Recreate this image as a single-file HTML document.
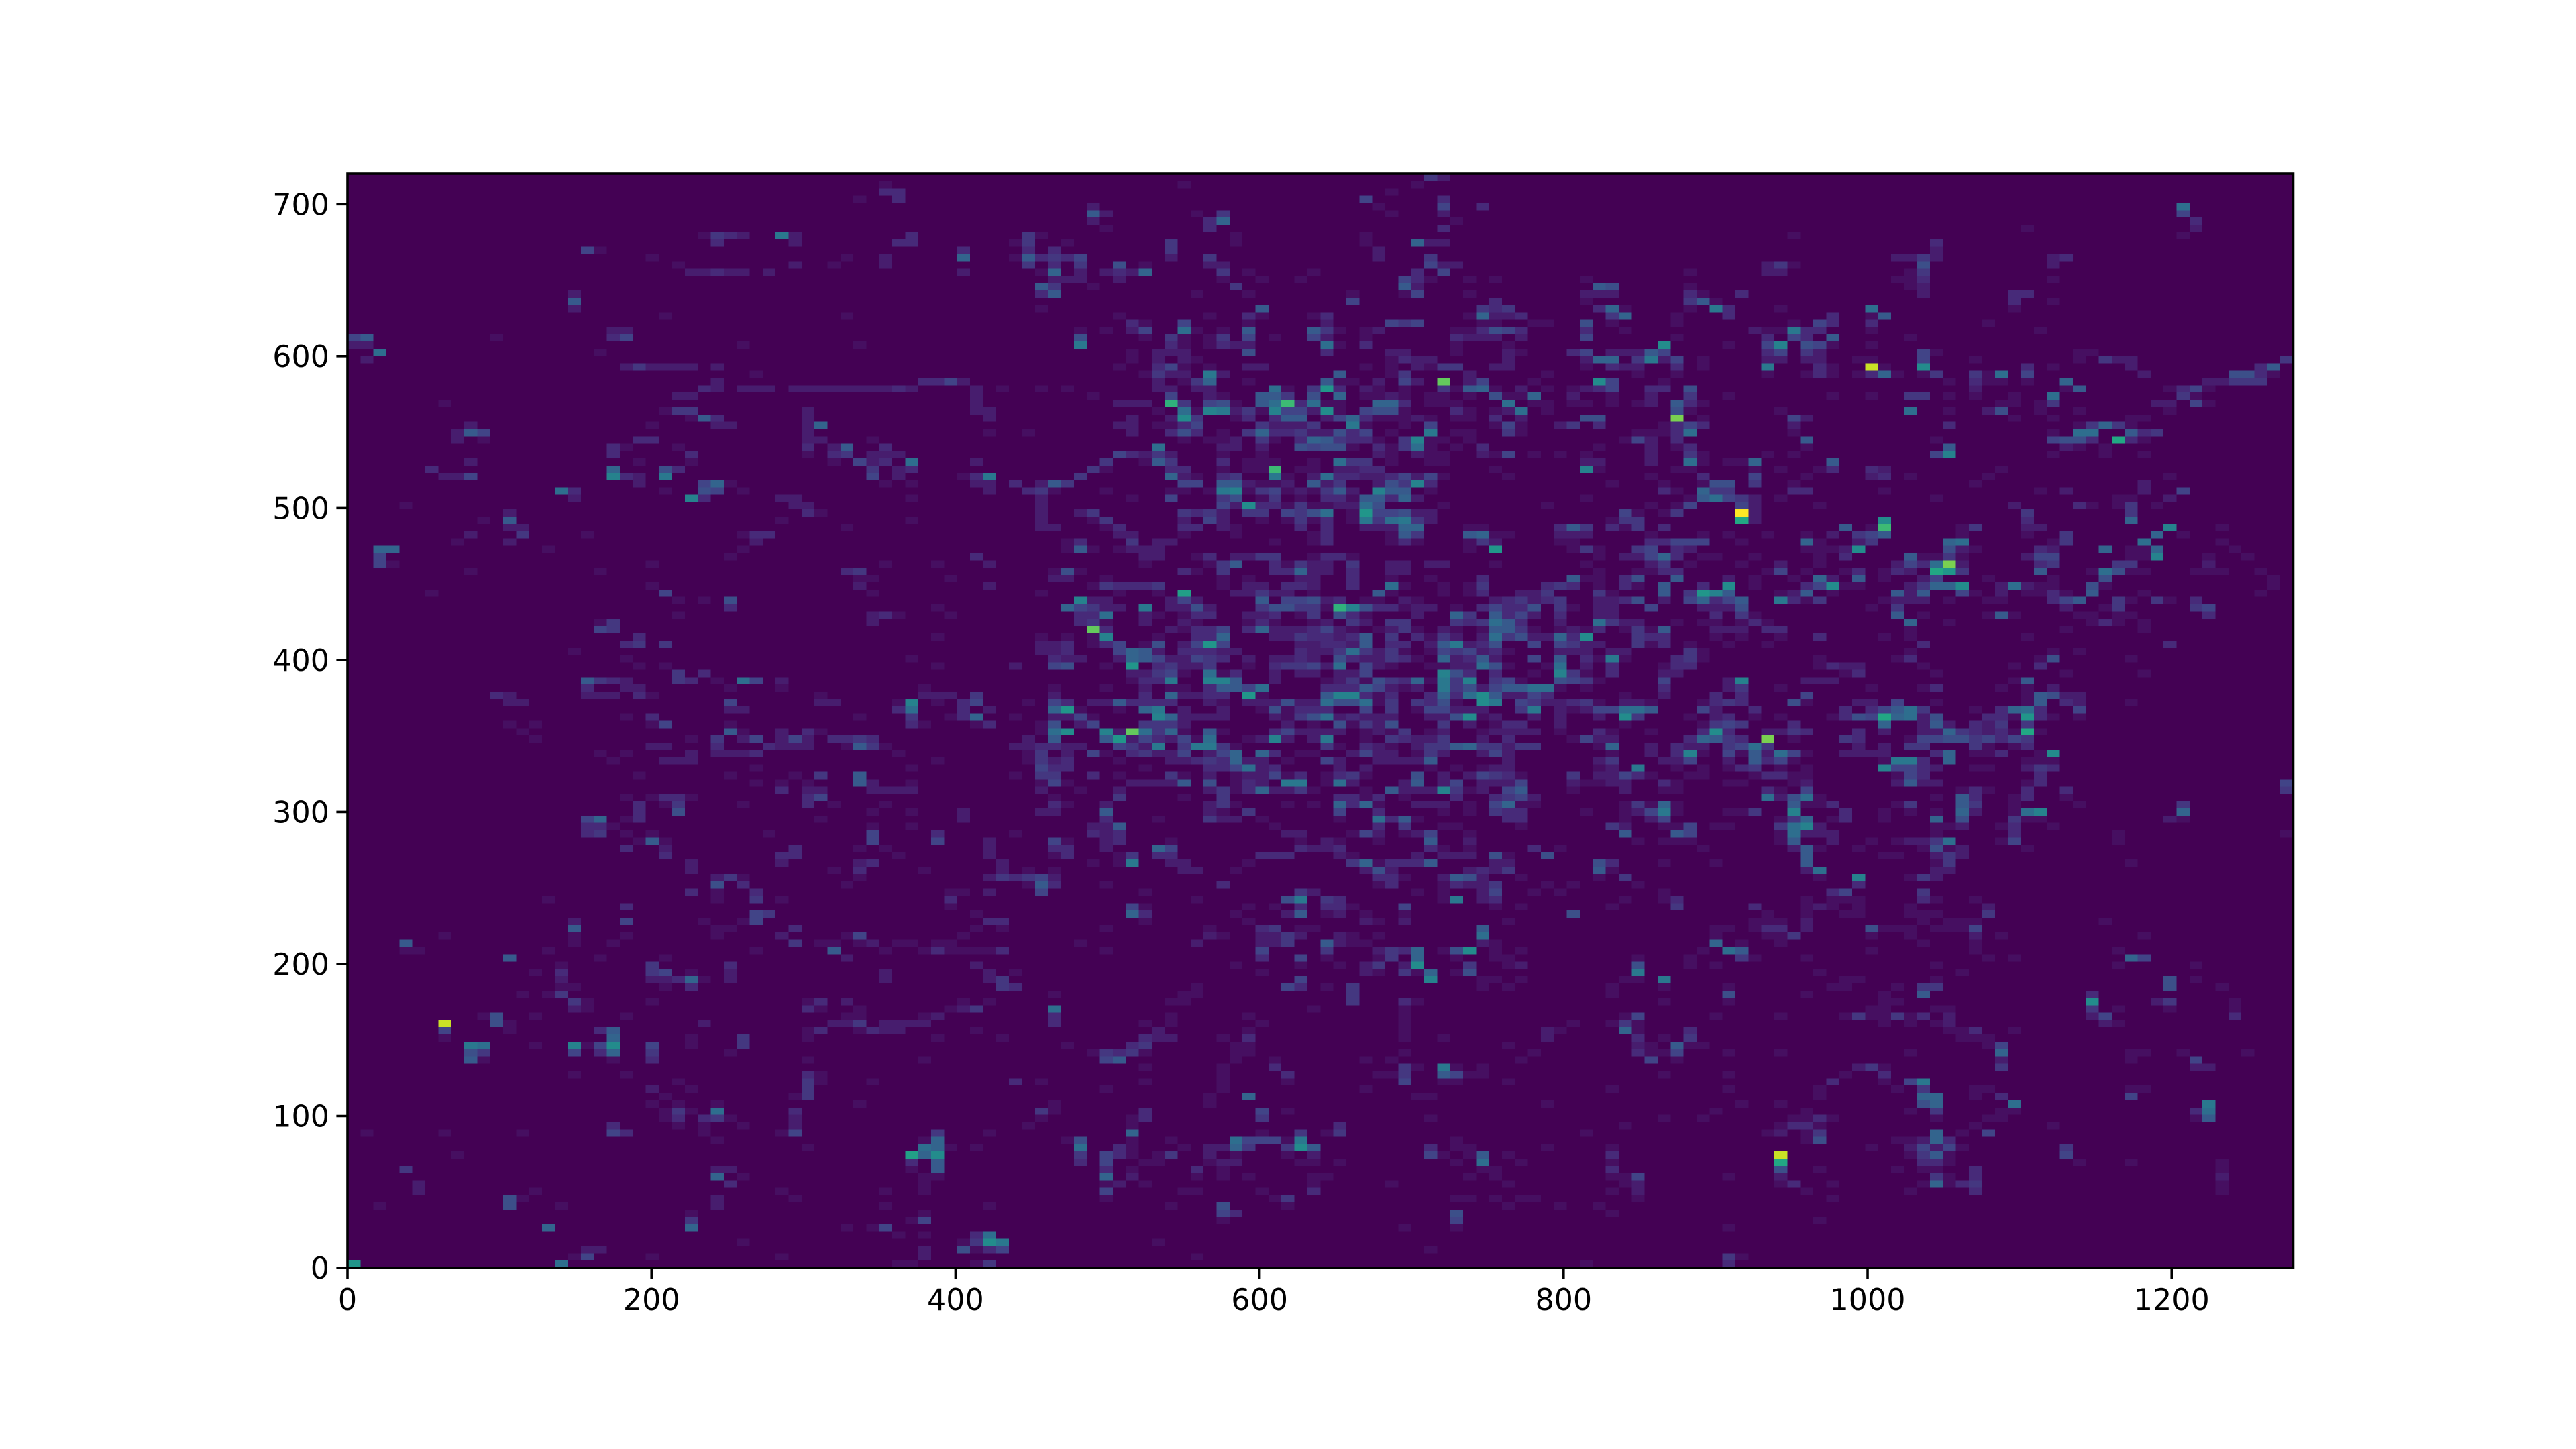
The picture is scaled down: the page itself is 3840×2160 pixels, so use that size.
<!DOCTYPE html>
<html lang="en">
<head>
<meta charset="utf-8">
<title>2D histogram heatmap</title>
<style>
html,body{margin:0;padding:0;background:#fff;width:3840px;height:2160px;overflow:hidden}
svg{display:block}
text{font-family:"DejaVu Sans","Liberation Sans",sans-serif;font-size:44.4px;fill:#000}
</style>
</head>
<body>
<svg id="chart" xmlns="http://www.w3.org/2000/svg" width="3840" height="2160" viewBox="0 0 3840 2160">
<rect x="0" y="0" width="3840" height="2160" fill="#ffffff"/>
<g id="plot"></g>
<g id="cells" shape-rendering="crispEdges"></g>
<g id="xaxis"></g>
<g id="yaxis"></g>
</svg>
<script>
const xTicks = [0,200,400,600,800,1000,1200];
const yTicks = [0,100,200,300,400,500,600,700];
const xBinCount = 150;
const yBinCount = 150;
const xMax = 1280;
const yMax = 720;
const countMax = 25;
// Each row: [row from top within block, col,count, col,count, ...]
const blockTopLeft = [
[1,41,1],[2,41,3,42,3],[3,39,1,42,3],
[8,27,1,28,4,29,3,30,2,33,10,34,2,43,3],[9,28,3,34,2,42,3,43,3],[10,18,5,19,1,47,3],[11,23,1,38,1,41,2,47,8],[12,25,1,34,2,37,1,41,2],[13,26,2,27,2,28,3,29,2,30,2,32,2,47,2],
[16,17,2],[17,17,7],[18,17,2],[19,24,1,38,1],[21,20,2,21,2],[22,0,5,1,7,11,1,20,3,21,5],[23,0,2,1,2,30,1,39,1],[24,2,9,19,1],[25,1,2],
[26,21,2,22,4,23,2,24,2,25,2,26,2,28,2],[27,31,1],[28,28,2,44,3,45,3,46,5,47,2],[29,27,3,28,2,30,2,31,2,32,2,34,2,35,2,36,2,37,2,38,2,39,2,40,2,41,2,42,3,43,2,48,2],[30,25,2,26,2,48,2],[31,7,1,48,2],
[32,24,1,25,4,26,4,35,2,48,2,49,2],[33,26,1,27,7,28,3,35,2,49,2],[34,9,2,23,1,28,2,29,2,35,2,36,8],[35,8,2,9,7,10,5,35,2,49,1],[36,8,2,10,1,22,3,23,3,35,2,36,2,40,1],
[37,20,3,21,1,25,1,35,3,37,2,38,7,41,3],[38,20,3,26,3,35,1,37,3,38,4,40,2,41,2,42,2],[39,9,2,22,1,26,1,37,1,39,5,40,2,41,3,43,9,48,2],[40,6,3,20,8,24,6,25,3,40,4,42,2,43,3],
[41,7,2,8,2,9,5,20,11,21,3,22,2,24,10,40,5,42,2,47,1,48,3,49,10],[42,22,2,27,5,28,8,29,1,41,1,43,1,48,2,49,2],[43,16,9,17,3,24,1,27,6,28,5,30,1,49,2],[44,17,2,26,11,27,3,33,2,34,2,43,1],
[45,4,1,34,2,35,2],[46,12,2,35,3,36,1],[47,10,1,12,7,33,1,43,1],[48,12,2,13,2,38,1],[49,9,2,13,4,18,1,30,1,31,3,32,3]
];
const blockTopCenter = [
[0,33,4,34,2],[1,14,1,32,1],[2,30,1],[3,28,5,34,3],[4,7,2,29,1,34,5,37,3],[5,7,7,8,2,15,1,17,4,30,1,34,2],[6,7,2,16,3,17,8,35,1],[7,8,1,16,3,34,3],
[8,2,4,3,1,18,1,28,1],[9,1,1,2,4,5,1,13,4,18,1,28,1,32,8,33,2,34,2],[10,2,3,4,3,13,4,29,2],[11,1,1,2,7,3,3,4,4,5,3,6,5,13,2,16,4,29,2,33,4],
[12,2,4,4,3,6,4,9,6,11,1,16,2,17,2,33,5,34,2,35,2],[13,3,1,4,8,6,2,8,2,9,3,10,2,11,8,17,4,19,1,24,1,32,3,34,5],
[14,4,2,5,2,6,2,9,2,17,1,20,1,23,1,31,5,32,3,33,1,36,1,38,1,45,1],[15,3,7,4,4,7,1,18,4,31,7,32,2,46,7,47,6],[16,3,3,4,7,15,1,19,1,27,1,31,1,32,5,36,1,45,2,46,2,47,2],[17,27,5,38,3,45,1],
[18,3,1,20,7,37,4,38,3,39,4,46,3,47,8,48,1],[19,9,1,16,1,19,3,20,1,24,1,25,3,36,1,37,8,38,2,39,2,40,3,47,4,48,8],
[20,10,3,11,1,14,5,19,1,25,2,30,5,31,4,32,5,37,1,38,1,41,1,42,1,45,6,47,1],
[21,6,1,8,1,10,2,11,5,14,9,15,1,17,1,19,7,24,7,25,4,26,1,28,1,29,2,35,1,36,1,37,3,38,6,39,5,40,3,45,3,48,1],
[22,6,6,11,1,13,4,14,1,16,1,17,4,19,5,21,1,24,5,25,2,28,1,35,3,36,2,37,2,38,2,40,2,45,5],
[23,6,10,13,3,14,1,16,1,17,3,18,2,19,2,25,9,26,1,28,3,35,1,39,1],
[24,10,1,12,2,13,2,14,2,19,6,25,3,30,2,31,2,35,1,39,2,40,1,44,3,45,5,47,2,48,2,49,2],
[25,10,1,12,2,14,2,15,1,30,1,31,3,32,2,33,2,39,2,45,2,46,8,47,8,49,4],
[26,9,1,12,3,13,5,14,1,16,1,19,2,20,2,28,1,30,1,32,2,33,1,34,4,35,4,38,2,39,2,45,1,47,3,48,2,49,2],
[27,11,1,12,4,13,2,14,2,16,10,17,2,26,7,30,1,31,4,36,2,42,1,49,1],
[28,12,2,14,1,15,4,16,8,19,1,25,7,26,1,27,1,29,2,31,5,32,2,34,19,36,2,37,5,41,1,46,12,47,5],
[29,0,1,3,1,5,1,12,2,13,2,15,2,16,2,21,9,22,1,24,4,25,13,26,3,28,2,29,1,31,1,34,4,35,1,36,7,37,8,38,1,40,2,42,1,44,1,45,2,46,3,47,5],
[30,7,1,13,5,16,2,17,1,20,7,21,7,22,4,24,6,26,8,28,1,29,1,30,2,31,1,33,1,34,1,36,1,38,6,39,1,40,1,41,8,44,2,47,1],
[31,9,2,10,2,11,2,13,16,14,4,16,5,17,6,18,1,20,7,21,9,22,17,23,3,24,9,25,1,26,1,29,8,30,8,31,3,33,1,34,1,35,1,39,9,41,1,42,1,44,1,45,1,47,1,49,1],
[32,12,1,14,9,15,1,16,11,17,10,18,2,19,4,20,1,21,11,22,5,23,5,24,2,25,12,26,1,28,5,29,6,30,6,31,1,35,3,36,1,38,1,39,2,40,9,42,1],
[33,10,2,13,2,14,12,15,4,18,1,19,3,21,3,22,7,23,7,25,2,26,5,27,8,28,3,29,1,30,1,31,1,32,2,33,1,35,1,36,1,38,3,40,2,45,6,46,6],
[34,9,2,10,2,12,1,13,1,14,3,15,5,20,4,21,2,22,2,23,2,24,4,27,10,28,1,31,1,33,5,38,1,39,5,40,1,43,2,44,4,46,3],
[35,2,1,10,2,13,3,14,6,15,3,17,1,19,4,20,8,21,3,22,3,23,4,24,2,25,2,26,6,27,3,28,5,30,1,33,10,35,1,36,1,39,4,40,1,49,1],
[36,14,1,16,1,17,1,18,2,20,4,21,1,23,3,24,8,25,7,26,4,27,3,28,3,29,1,31,4,32,11,33,1,34,1,36,1,48,1,49,5],
[37,12,9,17,2,18,2,20,2,23,6,24,5,25,6,26,6,27,1,29,3,30,1,31,4,32,9,33,1,35,1,37,3,46,1],
[38,9,5,10,3,11,2,12,4,13,2,17,1,20,1,29,2,30,1,32,2,33,1,34,1,37,2,38,1,39,5,41,1,43,1,45,1],
[39,8,4,11,1,12,7,13,4,17,3,19,1,20,1,21,1,24,1,26,9,27,4,28,4,30,1,33,1,34,1,45,2,46,2],
[40,7,4,8,1,13,3,14,3,17,1,19,1,20,1,21,17,23,1,24,1,26,2,27,2,28,3,29,3,38,1,45,11,46,1],
[41,6,4,13,8,14,2,15,1,17,3,18,4,21,10,22,1,24,2,25,9,26,3,27,3,28,2,29,2,30,3,31,5,32,2,33,5,34,1,39,1],
[42,1,3,3,2,4,7,5,4,14,5,15,5,17,7,18,7,19,2,20,1,21,1,22,2,24,7,25,2,26,4,29,2,30,6,31,4,32,11,33,3,47,1],
[43,2,3,3,4,4,1,8,1,13,1,14,1,16,1,17,10,18,11,19,1,20,4,21,5,22,1,23,2,24,1,25,4,26,7,27,2,29,11,30,7,31,7,33,1],
[44,3,2,10,1,13,5,17,4,18,6,20,1,21,4,23,1,25,3,26,3,27,1,28,7,29,7,30,3,31,8,32,2,45,1],
[45,3,2,17,5,18,2,19,12,20,3,21,3,22,1,23,4,24,1,25,1,26,2,27,2,28,9,29,6,34,1,42,1],
[46,3,2,6,2,7,4,14,4,15,3,16,4,17,2,19,4,20,4,22,5,23,4,24,6,25,9,27,1,28,13,29,5,30,5,31,6,32,2,33,2,48,5,49,1],
[47,3,2,7,1,8,4,14,2,16,5,17,2,20,1,22,1,23,4,24,1,25,3,27,1,28,10,29,4,30,9,31,10,32,4,33,2,47,1,48,4,49,4],
[48,3,2,4,2,8,1,9,3,14,3,15,3,17,2,18,1,23,3,25,3,28,2,29,2,30,2,31,8,32,8,36,1,37,1,43,3,44,7,45,4,47,3,48,1,49,4],
[49,9,2,10,2,14,1,18,1,24,1,25,3,30,1,31,7,32,4,36,7,37,8,38,1,39,1,43,2,44,2,45,2]
];
const blockTopRight = [
[4,41,9],[5,41,5],[6,42,3],[7,29,1,42,2],[8,11,1,41,1],[9,22,3],[10,22,2],[11,19,2,20,2,21,4,22,2,31,2,32,3],[12,9,2,10,4,11,1,21,6,31,2],[13,3,1,9,2,10,2,20,1,21,4],[14,19,1,20,1,21,3,31,1],[15,3,1,20,1,21,2],
[16,3,3,4,1,7,3,21,2,28,3,29,3],[17,3,4,4,7,5,1,28,3,31,1],[18,3,1,5,10,6,3,10,1,17,9,28,1],[19,2,1,6,3,14,3,17,1,18,7],[20,2,1,11,1,13,5,14,3,17,3,26,1],[21,8,2,9,1,10,1,11,10,12,3,13,3,17,1,30,1],
[22,2,1,9,3,11,5,12,3,14,7,20,1],[23,1,12,6,1,9,5,10,11,12,6,13,5,14,1,17,1],[24,0,7,1,5,9,3,10,5,12,4,13,2,21,5,22,1,33,1,34,1],
[25,0,10,1,2,2,5,4,1,9,2,10,2,12,2,13,2,16,1,17,1,21,5,25,1,33,1,35,4,36,2,37,2,49,4],[26,2,3,4,1,9,10,13,3,14,1,17,23,18,1,21,12,29,3,31,1,37,2,47,3,48,7],
[27,2,1,9,1,12,1,13,3,14,1,16,1,17,3,18,8,19,1,21,1,22,4,25,4,26,1,27,9,29,5,38,2,45,6,46,6,47,3,48,1],[28,1,1,23,1,25,3,26,1,27,1,29,1,32,8,43,2,44,2,45,4,46,4,47,4],
[29,0,3,1,3,3,6,25,2,32,1,33,7,40,1,41,3,42,5,43,1],[30,0,2,3,4,6,1,14,1,17,1,20,4,21,4,23,1,25,1,28,1,31,9,41,4,42,1],[31,0,2,2,7,3,3,4,1,27,1,28,1,30,1,31,4,39,2,40,2,42,5,43,1],
[32,2,6,3,1,10,1,20,9,23,1,26,2,27,6,30,1,33,1,40,1],[33,2,20,4,1,11,5,12,2,28,1,31,1,37,1,38,1],[34,1,1,2,3,3,5,4,3,11,2,23,3,33,1,34,4,35,8,36,4,37,1],
[35,0,1,1,1,2,3,3,9,11,1,31,1,33,9,34,9,37,7,38,3,39,4],[36,0,2,2,3,12,7,22,1,31,5,32,6,33,6,34,3,36,15,37,3,38,1],[37,0,2,2,1,3,3,12,1,23,7,32,2,33,1,35,1],
[38,0,2,3,4,4,1,9,1,11,1,22,5,23,11,31,1,35,1,38,1],[39,0,2,3,9,4,1,6,1,7,1,8,8,14,7],[40,2,1,3,1,8,1,10,1,13,1,14,3,17,3,18,2,27,1],[41,0,1,4,3,8,5,12,1,17,2,18,3,20,1,26,1,40,1],
[42,1,1,4,1,5,6,6,6,8,4,11,1,25,1,38,2],[43,1,3,2,1,4,8,5,4,6,4,11,3,12,3,18,1,30,1,32,2,38,2,41,5],[44,3,1,4,7,5,9,6,5,7,4,8,2,10,1,22,1,36,1,37,1,40,2],
[45,0,1,2,1,3,5,7,5,8,2,13,1,28,2,33,3,34,1,36,1,37,4,39,1],[46,1,1,2,4,7,25,8,2,29,4,37,4],[47,7,15,8,2,18,12,29,3,37,8],[48,1,3,15,7,17,1,18,17,24,1,25,4,29,2,30,2,40,11,44,1],
[49,0,1,4,1,6,1,9,1,12,1,14,2,16,4,17,5,18,7,24,1,29,1,32,4,39,8,41,1]
];
const blockMiddleLeft = [
[0,8,1,12,2,31,2],[1,2,8,3,8,15,1,30,1],[2,2,5,29,1,48,3],[3,2,5,3,1,23,1,41,1,45,1,49,2],[4,9,1,19,1,38,3,39,4],[5,39,1,40,1,46,1],[6,23,1,39,2,49,2],[7,6,1,24,5,40,1],[8,25,1,27,1,29,6],[9,29,3,45,1],
[10,25,1,40,2,41,3,42,1,46,1],[11,19,1,20,4,40,2],[12,19,5,20,4],[13,22,3,45,1],[14,21,3,22,4,24,4],[15,17,1],[16,21,1,43,1],[17,22,1,24,1,45,1],[18,25,4,27,3],
[19,18,7,19,4,20,3,21,2,25,4,26,3,28,1,30,9,31,5,33,2],[20,18,3,21,2,22,2,29,1,33,1,44,1],[21,11,3,12,2,18,2,19,2,20,2,22,3,23,1,36,1,44,2,45,2,46,2,48,4],[22,12,2,13,2,29,5,36,2,37,2,42,1,43,11,45,1,47,3,48,5],
[23,29,2,30,2,42,3,43,9,47,3,49,2],[24,21,1,23,3,39,1,43,4,46,1,47,3,48,8],[25,12,1,14,1,23,1,24,5,29,1,43,3,44,1,48,1,49,3],[26,13,1,29,7,30,1,33,2,35,3,36,1],
[27,14,1,26,1,28,4,30,2,31,5,33,2,34,5,35,2,37,3,38,3,39,4,40,3],[28,23,2,24,2,28,3,32,3,33,2,34,2,35,2,38,1,39,7,40,4,41,1],[29,19,1,21,1,26,2,28,2,29,2,30,2,31,3,42,1],[30,20,1,24,2,25,2,26,2,45,1],[31,31,1,43,1],
[32,22,1,29,1,34,1,36,4,39,7],[33,31,1,33,1,35,1,39,7,40,2,43,1],[34,33,3,35,2,36,2,40,2,41,2,42,2,43,2],[35,21,1,23,1,24,3,25,3,26,1,35,3,36,5],[36,22,3,24,1,25,4,30,1,35,3,37,1,41,1],[37,22,3,25,6,40,1,43,1,47,2],
[38,18,5,19,8,21,1,22,3,36,1,47,2],[39,18,3,19,3,20,1,40,1,43,1],[40,18,3,19,4,21,1,23,1,32,1,40,5,45,3],[41,22,1,23,7,24,1,40,5,45,5,49,2],[42,21,3,24,2,34,3,39,1,41,1,49,2],[43,24,3,33,3,34,3,42,1,49,2],
[44,26,2,33,2,39,2,40,3],[45,26,2,37,1,39,3,44,1],[46,28,2,29,4,30,1,39,1,49,2],[47,28,6,30,3,38,1],[48,26,3,28,1,31,3,46,1,47,1,49,2],[49,15,1,28,1,31,4,33,1,46,3]
];
const blockCenter = [
[0,5,1,6,3,10,4,12,2,13,2,21,1,24,1,25,3,30,1,31,3,32,1,36,1,37,4,38,2,43,1,44,1],
[1,5,1,6,7,7,1,9,1,10,2,11,2,12,2,36,1,38,13,44,1,45,4,46,1,49,4],
[2,11,2,12,2,15,1,16,3,18,2,19,2,20,4,21,4,24,1,25,3,26,3,27,1,46,1,48,2,49,2],
[3,11,1,16,1,17,4,18,7,21,3,22,1,23,4,24,2,25,2,27,4,30,2,31,2,33,2,34,2,38,1,45,1],
[4,4,1,5,6,6,1,14,3,15,1,17,4,21,3,22,3,23,8,24,2,25,2,27,3,30,2,31,2,46,1,49,1],
[5,4,2,5,2,8,1,17,1,19,1,23,2,24,2,27,3,30,1,33,1,37,3,44,7,45,1,46,1,48,3,49,6],
[6,7,1,8,4,9,3,10,3,11,3,12,4,17,1,19,2,20,2,22,3,23,3,24,2,27,3,30,9,31,1,34,1,36,1,37,4,42,3,43,4,44,3,46,1,48,3,49,1],
[7,3,1,9,1,12,1,14,14,18,2,19,2,20,4,21,2,22,2,24,1,29,7,30,1,34,1,36,1,37,3,40,2,41,2,42,4,46,4,47,1],
[8,6,11,7,2,8,2,13,2,14,5,15,2,20,7,22,5,23,5,24,6,25,2,26,3,28,1,29,1,31,2,32,1,38,2,39,3,40,4,41,2,42,3,43,4,46,2,47,2,48,3,49,6],
[9,5,8,6,5,7,4,8,2,9,2,11,10,13,2,14,2,15,6,16,2,20,4,21,6,22,6,23,4,24,4,25,1,26,16,27,11,28,6,29,3,30,3,31,1,32,2,33,2,35,1,37,3,38,5,39,3,40,3,41,6,43,4,44,1,46,2,47,2],
[10,6,3,7,3,8,9,11,2,12,1,14,1,15,3,16,3,19,2,20,2,21,3,23,1,24,4,26,6,27,3,28,1,32,2,35,8,36,4,38,7,39,3,40,5,41,2,43,3,46,2,47,2],
[11,6,3,7,4,8,1,11,2,14,2,15,1,19,1,20,3,21,1,24,1,25,2,27,4,28,2,30,4,31,4,35,4,36,3,37,4,38,9,39,7,40,3,43,2,46,9,47,4,48,2,49,2],
[12,7,19,8,3,13,2,14,1,15,3,16,3,17,5,19,3,20,8,21,2,22,2,23,2,24,3,25,5,26,2,27,1,29,1,30,2,31,4,32,1,34,2,35,1,37,1,38,7,39,7,40,4,41,1,43,1,44,2,45,1,46,3,48,1,49,4],
[13,3,1,5,1,7,1,8,11,12,1,15,3,16,3,17,8,21,2,22,2,23,4,24,3,25,3,26,2,27,3,28,7,30,4,32,3,33,1,34,4,35,2,37,2,38,9,39,4,40,6,41,2,42,2,43,8,44,3,45,12,49,4],
[14,3,2,4,2,5,3,7,1,8,3,9,5,11,1,12,6,14,2,15,5,16,13,17,5,23,2,24,2,25,3,26,3,27,2,28,7,30,3,31,3,33,2,34,7,35,10,36,2,37,3,38,6,41,5,43,5,44,4,45,2,46,2,49,4],
[15,3,2,4,2,5,3,9,5,10,8,11,7,12,2,14,3,15,3,16,3,17,2,18,2,23,3,24,2,25,2,26,4,27,9,28,4,29,2,30,4,31,1,33,1,34,5,35,4,36,5,37,2,38,3,39,1,43,2,44,2,45,2,47,2,48,2],
[16,4,3,5,2,6,2,9,2,10,8,11,7,12,5,13,2,14,2,15,5,16,4,17,3,19,2,21,2,22,2,23,3,24,2,26,6,27,3,28,2,29,2,30,4,31,3,32,1,34,8,35,2,36,3,37,7,38,2,41,5,43,7,45,3,46,1,47,10,48,1],
[17,1,2,4,5,5,6,8,1,10,13,12,3,13,4,14,2,15,2,16,4,19,1,21,3,22,4,23,4,24,5,25,2,26,9,28,5,29,2,30,1,33,1,34,1,35,2,36,2,37,9,38,6,39,1,42,1,43,9,45,2,47,3],
[18,10,2,11,2,12,4,13,5,14,1,16,9,17,1,18,3,21,2,23,2,24,2,26,2,27,2,28,5,34,11,35,6,36,3,38,3,41,1,43,11,44,4,45,1,47,3],
[19,10,1,11,3,12,3,13,10,16,11,17,11,18,7,21,2,25,1,26,2,27,4,28,1,29,6,30,4,31,3,32,8,33,1,34,10,35,4,36,11,38,4,39,5,40,1,43,6,44,5,45,4,46,1],
[20,4,1,8,1,11,2,13,1,14,1,16,3,17,7,18,7,19,5,20,9,25,3,26,3,27,3,28,7,29,5,30,2,31,1,32,2,34,10,35,4,36,6,37,2,38,5,39,7,40,7,41,9,42,9,43,1,45,1],
[21,4,2,11,3,13,8,14,2,15,2,16,3,17,3,19,13,20,1,25,7,26,11,27,11,28,3,29,1,30,3,33,3,34,8,35,3,36,9,37,12,38,7,39,2,40,2,41,5,42,3,48,1],
[22,2,1,4,5,5,3,7,2,8,2,9,7,10,3,11,3,12,3,13,3,16,2,17,1,19,2,20,2,21,2,22,6,23,2,24,2,25,9,26,6,27,6,28,9,29,1,30,4,32,4,33,3,34,6,35,1,37,12,38,10,40,5,41,4,42,2,43,2,44,3,45,4,46,1,48,2,49,2],
[23,4,8,5,13,6,1,9,1,11,8,12,10,14,2,17,2,20,1,21,6,22,1,23,3,24,3,25,3,28,5,30,4,32,1,33,5,34,5,35,2,36,2,37,2,40,4,41,10,43,2,44,1,45,2,46,5,47,5,48,9,49,9],
[24,1,1,4,2,5,2,6,5,7,1,12,11,13,8,14,2,15,2,16,2,17,2,21,2,22,1,23,4,24,6,25,9,26,2,27,3,28,2,29,2,30,2,33,2,34,2,35,6,36,12,37,1,38,2,41,2,43,2,46,2,48,12,49,4],
[25,3,1,4,6,6,2,7,5,11,4,12,4,13,4,14,2,22,2,24,1,26,6,27,1,28,4,29,2,30,6,34,4,36,2,38,1,39,3,40,3,43,2,48,1],
[26,3,1,4,9,5,12,8,11,9,2,10,19,11,9,12,4,13,8,14,1,16,7,17,1,21,3,22,5,23,2,24,2,25,2,26,2,28,1,29,2,30,1,31,4,33,1,34,2,37,1,38,2,39,2,40,2,41,2,43,1,46,3,47,1],
[27,2,2,4,7,8,7,9,13,10,2,11,5,12,3,13,2,14,5,15,1,16,9,19,1,20,2,21,11,22,2,24,2,25,10,28,1,30,4,31,3,32,2,33,2,34,4,37,2,39,3,44,1,45,5,46,2,47,2],
[28,1,2,2,2,3,3,4,3,5,2,6,2,9,5,10,4,11,2,12,10,14,4,15,10,16,10,17,4,18,1,25,4,26,1,28,3,29,2,30,1,32,2,33,4,34,4,35,7,36,8,37,4,38,4,39,2,40,4,41,4,46,1,47,8],
[29,2,1,3,4,5,2,7,5,8,1,10,3,11,4,12,2,13,2,14,5,16,2,17,5,18,8,20,8,21,3,23,1,24,1,27,2,28,5,29,2,30,2,32,1,33,4,34,2,37,2,38,5,39,2,47,1],
[30,2,1,3,4,4,2,5,3,9,1,13,2,14,2,15,3,16,4,17,3,18,8,19,2,20,2,22,1,25,5,26,2,29,2,30,2,31,2,32,2,33,7,39,2,46,2,47,4],
[31,3,5,4,3,5,3,11,1,16,3,17,3,18,5,19,9,20,2,21,3,26,2,28,2,33,1,35,1,37,1,38,2,39,2,46,1,47,2,49,10],
[32,1,1,3,4,4,4,7,3,9,1,13,4,14,1,16,2,18,1,19,2,20,2,21,5,22,1,23,3,25,1,26,3,27,4,28,1,32,6,34,2,36,2,37,5,38,4,39,3,40,1,44,4,46,2,47,2,48,5,49,3],
[33,3,1,4,5,5,1,10,2,11,2,12,2,13,2,14,7,16,6,18,1,19,3,20,2,22,10,23,10,25,1,26,9,27,2,31,2,32,7,34,2,35,5,37,2,38,2,39,2,40,5,44,2,45,1,46,1,47,2,48,2],
[34,3,2,6,1,9,2,16,2,17,4,18,1,19,3,20,8,21,2,22,2,23,4,24,1,28,1,30,7,31,2,32,2,33,2,34,11,35,4,36,1,37,2,39,5,40,7,44,1,48,2],
[35,4,1,9,4,14,1,17,4,26,3,27,3,28,1,29,3,31,1,35,3,38,3,39,4,40,5,41,2],
[36,4,3,5,1,8,2,16,2,17,4,18,1,22,1,24,1,26,8,27,3,28,8,29,1,32,2,33,2,34,2,36,1,38,5,39,8,40,1,41,1,48,1,49,4],
[37,3,2,4,2,8,7,16,2,17,1,19,4,26,5,29,3,34,1,36,1,38,4,39,3,40,3,45,1,48,1,49,2],
[38,8,3,12,1,16,4,17,2,18,2,20,1,26,1,29,9,30,3,31,7,32,1,39,3,40,3,48,1],
[39,7,2,8,2,9,7,21,1,29,3,31,4,34,1,35,1,40,1,47,4,48,2],
[40,1,1,7,3,8,2,9,3,22,2,23,2,27,1,28,5,29,2,31,1,32,2,33,5,36,1,48,7],
[41,4,5,5,1,8,2,9,3,13,1,23,1,25,2,26,1,29,1,33,7,36,2,49,1],
[42,4,3,5,3,8,2,12,8,13,5,23,3,24,2,25,2,26,3,33,3,34,1,36,1,41,3,43,1],
[43,4,1,5,3,9,1,10,4,12,3,13,3,20,3,21,3,22,3,26,2,27,1,32,2,34,2,35,2,36,2,38,6,39,1,42,6],
[44,0,2,7,1,9,1,10,10,13,2,14,2,19,1,27,4,28,8,29,1,30,3,31,3,32,3,33,7,38,2,39,2,46,6,47,3],
[45,0,2,2,1,4,1,14,2,15,2,18,1,28,2,29,6,30,2,36,2,37,3,38,2,39,4,46,7,47,1],
[46,0,4,1,3,2,4,3,5,4,2,29,3,30,3,31,1,34,2,35,7,36,6,37,2,40,1,46,1,48,4],
[47,2,1,3,7,4,3,8,1,17,3,29,1,30,3,34,1,35,3,36,2,37,2,38,4,42,1,44,1,49,1],
[48,3,5,11,1,23,4,24,2,32,1,34,1,37,2,38,5,41,1,43,1],
[49,15,1,22,6,23,10,25,4,26,3,34,1,35,10,37,2,38,3,48,1]
];
const blockMiddleRight = [
[0,0,3,1,3,2,5,3,5,4,5,7,1,12,8,13,1,16,2,17,4,23,8,24,9,31,1,32,4,38,9,44,1],
[1,0,5,2,3,3,2,12,1,13,1,14,1,15,2,16,12,23,6,24,2,25,1,30,3,31,2,35,8,37,1,38,1,39,8,45,1],
[2,0,5,1,8,2,3,4,1,5,1,8,1,13,1,15,3,20,7,21,1,22,1,23,4,24,1,29,2,30,5,31,5,37,1,38,1,39,11,43,1,46,1],
[3,0,2,1,4,3,1,7,1,10,2,13,1,19,2,20,5,21,3,22,9,23,20,24,2,30,3,31,4,36,4,37,4,43,2],
[4,0,1,1,3,2,3,9,1,10,5,12,1,15,1,16,3,18,1,19,3,20,2,22,15,23,13,24,4,30,7,34,1,35,9,36,6,37,1,38,1,42,1,43,1,44,1,47,1],
[5,2,7,6,2,8,1,11,1,13,8,14,2,16,7,18,1,21,2,22,5,26,1,31,1,35,6,48,1],
[6,1,7,4,3,6,12,8,1,12,3,13,5,14,12,15,1,16,1,20,2,21,4,22,8,23,8,24,12,27,2,28,9,29,2,30,1,31,1,34,6,35,1,48,1],
[7,1,7,3,4,4,13,5,11,6,7,10,1,11,2,12,7,14,1,19,7,20,2,21,7,24,5,25,1,27,2,29,1,30,1,31,3,32,1,34,7,38,1,47,1],
[8,1,2,3,5,4,8,5,3,6,5,7,7,10,10,11,3,12,1,13,4,18,1,19,2,20,2,21,2,23,1,26,1,27,1,31,3,32,5,33,7,36,4,37,1,39,4,40,1,42,3],
[9,0,5,4,2,5,2,6,2,7,6,17,1,19,4,32,2,35,1,36,4,42,4,43,5],[10,5,3,7,4,8,1,19,7,21,1,26,1,27,7,28,1,33,1,34,1,36,1,37,1,43,3],[11,2,1,4,1,5,1,7,1,8,3,9,1,20,8,23,1,34,1,35,3,36,1,38,1],
[12,0,1,1,7,5,2,6,2,7,2,9,3,10,3,20,1,32,1,38,1],[13,0,3,1,3,5,1,7,1,10,1,13,3,18,1,20,1,29,1],[14,0,1,1,3,3,1,6,1,9,1,21,3,40,3],[15,3,4,4,1,20,1,31,1,33,1],
[16,2,3,3,4,4,1,13,1,19,1,20,3,30,1,31,6,37,1],[17,1,1,2,3,3,3,13,1,14,3,15,2,16,2,21,1,28,1,30,3],[18,1,2,2,2,15,1,16,3,22,1,32,1,38,1],[19,1,5,6,2,7,11,12,2,13,2,14,2,28,1,29,7],
[20,1,3,6,2,7,4,10,1,17,1,21,1,22,3,27,1,29,1,31,2],[21,1,2,5,3,7,3,12,5,29,1,30,7,31,6,32,2,33,2],[22,0,1,4,1,5,3,6,4,7,3,11,6,12,1,16,2,17,2,19,5,22,1,29,1,30,7,32,3,33,2,37,1],
[23,0,7,4,5,5,2,8,3,15,3,17,3,18,5,19,7,20,9,21,4,25,1,27,3,28,8,29,9,30,3,33,5],
[24,3,1,5,2,6,3,8,1,10,1,14,1,15,3,16,6,17,5,18,15,19,8,20,9,21,2,22,6,26,3,27,3,28,1,29,13,30,3,31,1,33,1],
[25,4,1,5,4,6,5,7,4,11,3,18,8,21,2,22,7,23,2,25,3,26,2,27,4,29,4],
[26,0,1,4,3,5,12,6,3,9,2,10,2,11,4,12,3,16,3,18,2,21,2,22,2,23,8,24,4,25,3,26,2,27,3,28,1,29,15,30,1],
[27,3,3,4,8,5,7,6,4,7,3,9,20,11,1,15,4,16,3,20,1,21,5,22,5,23,6,24,6,25,4,26,5,27,3,28,5,29,4],
[28,0,2,2,3,3,2,4,2,6,4,7,5,8,9,9,4,16,2,18,2,20,4,21,4,25,4,26,1,28,1,29,3],
[29,0,2,2,3,3,11,4,1,6,5,7,1,8,7,9,2,10,9,11,5,12,1,15,2,16,2,17,2,18,2,22,3,23,8,25,1,26,1,27,3,30,1,31,12],
[30,1,2,2,2,3,5,6,2,8,7,9,3,10,5,11,1,18,1,19,10,20,10,21,3,23,8,29,1,30,1,31,1],
[31,2,1,4,1,6,1,7,3,8,4,10,1,12,1,18,11,19,5,20,5,21,3,22,2,25,1,26,1,29,2,30,4,31,3],
[32,0,1,3,1,4,1,8,1,9,3,10,3,11,1,12,1,19,1,20,5,21,3,30,3],[33,1,3,2,1,6,1,7,1,11,1,12,2,19,2,20,7,21,2,22,2,29,1,30,3,49,5],[34,1,1,2,1,9,3,10,1,12,5,24,1,25,3,26,1,29,3,32,3,49,4],
[35,9,9,10,2,11,6,12,9,13,1,22,1,24,7,25,3,28,1,29,3,32,1],[36,0,1,1,8,2,1,11,7,12,1,13,1,14,3,19,1,20,4,24,7,25,4,28,1,33,1,41,4],
[37,0,5,1,10,2,1,6,1,7,1,8,4,11,11,15,3,18,1,20,1,22,1,24,8,25,2,28,1,29,9,30,11,41,8],[38,0,2,1,5,10,1,11,4,12,8,14,1,15,3,18,1,22,8,24,6,28,4,29,1,30,1,40,2,41,1],
[39,1,1,2,1,3,5,5,1,6,1,10,4,11,9,12,11,13,2,22,1,23,1,24,2,27,1,28,3,31,1],[40,2,7,3,5,10,1,11,9,12,2,13,2,14,2,22,1,28,3,36,1,49,1],[41,1,1,2,1,3,1,10,1,11,7,14,2,17,1,19,1,20,2,21,2,22,4,23,9,27,1,28,5,36,1],
[42,4,1,11,2,12,7,13,1,16,1,21,1,22,6,23,1,24,2,29,1],[43,12,7,18,1,19,1,22,2,23,4,24,2],[44,1,1,5,1,12,7,22,1,23,4,37,1],[45,12,2,13,9,22,2,23,2],[46,13,1,16,11,20,1,21,4,22,2],[47,16,3],[48,1,1,14,3,15,5,21,4],[49,1,1,2,3,12,1,14,1,15,1,16,1,21,3,22,1,25,1]
];
const blockBottomLeft = [
[0,21,3,46,1],[1,31,5,32,4,48,1],[2,17,2,21,5,27,1,30,1,31,5,49,3],[3,17,7,28,1,29,1,34,3,48,1],[4,7,1,17,1,21,1,28,1,33,2,38,1,39,5,47,1],[5,4,7,17,1,20,1,34,4,36,1,37,1,39,1,40,2,42,1,43,1,45,1,46,1],
[6,4,1,5,1,15,1,31,1,37,7,41,1,44,1,45,3,46,1,47,1,48,1,49,1],[7,12,7,19,1,24,1,38,2],[8,16,1,23,4,29,3,48,2],[9,14,1,16,3,23,4,24,5,26,1,29,2,41,2,49,2],[10,16,2,23,2,24,2,25,3,26,8,27,1,29,2,41,2,49,2],[11,16,1,17,1,24,1,26,3],[12,13,1,15,1,16,4],
[13,17,4,18,1,23,1,35,1,36,3,38,2,47,1,49,1],[14,17,2,18,1,35,3,36,1,39,1,46,1,47,2,48,4],[15,10,1,11,6,14,1,21,1,38,1,39,1,44,1,45,2],[16,7,23,11,6,12,1,27,2,37,2,38,2,39,4,41,2,42,2,43,2,44,2],[17,7,5,12,1,19,3,20,7,35,1,36,3,39,1,40,3,41,2,42,2,48,1],[18,7,1,20,8,26,1,30,4,35,1,45,1],
[19,9,10,10,9,14,1,17,11,18,1,19,5,20,12,23,5,26,1,30,4],[20,9,6,10,4,17,5,19,3,20,8,23,4,29,1],[21,9,7,10,1,20,1,23,3,35,1,44,1],[23,17,1,21,1,35,3,36,1],[24,25,1,35,4,36,1,40,1],[25,23,2,26,1,35,4],[26,24,1,34,1,35,4],[27,23,1,25,1,28,1,39,1],
[28,24,1,25,4,26,1,28,9,34,3],[29,24,1,25,3,27,3,28,4,29,1,34,2],[30,20,3,25,1,27,1,30,1,34,2],[31,1,1,7,1,13,1,20,5,21,3,27,1,33,1,34,5,45,4,49,1],[32,28,1,44,1,45,8],[33,35,1,44,9,45,8,46,1,48,1],[34,8,1,43,14,44,8,45,12],[35,43,3,45,7],[36,4,4,28,2,29,2,43,1,45,7],[37,28,8,30,1,44,1,45,1],
[38,5,2,29,3,44,1],[39,5,2,14,1,33,1,41,1,44,1],[40,12,6,13,1,28,2,34,1],[41,2,1,12,6,16,1,28,2,41,1,49,1],[42,26,1,44,1],[43,26,4,43,1,44,5],[44,15,8,26,8,38,1,40,1,41,5],[45,42,1,44,1,48,3,49,9],[46,30,1,47,1,48,4,49,12],[47,18,2,19,2,44,2,47,6,48,1,49,3],[48,17,1,18,5,23,1,33,1,44,2],[49,0,13,16,9,42,1,43,1,48,1,49,4]
];
const blockBottomCenter = [
[0,10,5,11,1,19,1,21,1,23,3,25,3,26,3,27,1,31,5,38,1,40,1,47,1],[1,10,8,11,3,18,1,22,2,23,7,25,1,26,2,28,1,31,1,44,6],[2,0,3,11,1,19,1,28,2,29,1,31,2,39,1],[3,0,1,8,1,16,1,20,3,21,4,23,1,24,1,37,7],[4,16,2,17,1,20,2,21,2,22,4,23,2,26,2,27,1,29,1,37,9],[5,6,1,15,2,20,2,21,2,22,4,25,7,26,2,27,1,28,1,37,2,38,1],
[6,0,3,8,1,20,5,25,4,29,2,30,4,31,3,32,8,34,1,35,6,36,12,38,1,40,1],[7,20,3,23,5,25,1,29,1,30,4,32,8,35,1,38,1,39,1,49,1],[8,18,1,23,1,26,1,28,2,29,4,31,2,32,12,36,4,39,1,40,2,49,6],[9,1,1,20,1,28,2,29,1,31,4,32,1,33,8,35,1,36,6,49,10],[10,0,4,23,5,33,11,37,1,38,1,40,1,48,1,49,1],[11,0,4,1,3,15,1,22,5,23,3,25,1,27,4,37,1,39,1,47,1],
[12,4,1,14,1,15,1,27,4,47,1],[13,13,1,14,1,27,4,31,3,32,1],[14,4,9,24,1,31,1],[15,4,3,13,1,19,1,31,1,48,1,49,5],[16,4,3,11,1,13,1,20,1,31,1,44,1,47,1,48,4,49,1],[17,12,2,19,1,31,1,42,2,43,1,48,8,49,1],[18,0,1,11,3,12,2,13,2,17,1,19,3,31,1,34,1,42,2,49,3],[19,5,1,10,3,11,4,18,1,19,1,39,1,49,2],
[20,7,1,8,4,9,3,10,4,11,1,18,1,19,1,31,1,41,1,49,3],[21,8,5,9,7,18,1,21,1,28,1,30,1,40,1],[22,11,1,17,1,21,3,31,4,32,1,34,10,35,1,37,1],[23,17,1,22,3,29,1,30,1,31,4,34,7,35,5,36,1,37,1],[24,1,3,3,1,11,1,17,1,22,1,31,5,34,1,35,1,39,1],[25,8,1,17,1,28,1,47,1],[26,16,1,19,8,32,1,33,1],[27,4,1,16,1,42,1],[28,3,4,4,1,11,3,20,5,22,1],[29,3,1,10,1,11,3,20,4,33,1],[30,2,1,10,1,26,3,48,1],[31,10,8,20,1,23,4,25,1,26,4,45,1],
[32,5,1,6,6,10,1,13,1,18,9,19,5,20,5,21,5,22,1,23,10,35,1],[33,6,9,9,3,10,1,14,1,16,2,17,2,18,8,19,4,22,4,23,12,24,7,33,3,35,1,36,1,42,1,47,1],[34,6,4,8,5,9,3,10,1,12,1,13,4,16,2,18,1,22,1,24,2,33,5,34,1,36,1,37,7,39,1,47,3],[35,6,3,8,5,11,1,12,1,16,1,17,2,18,2,23,1,24,1,26,1,35,1,37,9,40,1,47,1],
[36,8,3,10,1,15,3,17,1,37,1,38,1,47,3],[37,8,8,10,2,15,1,17,1,19,1,24,1,25,1,36,1,38,1,47,1,48,1,49,5],[38,8,1,9,2,11,1,24,1,30,1,39,1,48,1,49,2],[39,8,5,14,1,15,1,20,1,24,3,47,1,49,2],[40,8,1,21,1,22,4,35,1,36,1,38,1,40,1,41,1,49,1],[41,13,1,17,6,22,1,39,1,43,1,46,1],[42,17,5,18,3,35,6,47,1],[43,17,1,35,5],[44,31,1,35,1],[46,0,10,12,1],[47,0,5,33,1],[48,15,1],[49,45,1]
];
const blockBottomRight = [
[0,2,4,8,3,12,1,13,2,14,1,16,1,20,1,26,2],[1,9,1,12,1,15,1,16,1,20,1,21,1,22,1,26,4],[2,8,1,9,1,10,1,12,2,21,1,23,1,24,1,25,1,35,1],[3,5,1,6,1,8,1,9,3,10,3,12,2,17,6,18,1,19,1,20,1,22,1,23,1,24,1,25,5],[4,5,1,9,1,10,1,11,4,17,1,20,1,25,2,27,1,38,1],[5,5,8,7,1,10,1,21,1,25,1],[6,4,1,6,9,7,7,17,1,25,1,36,1],[7,3,1,7,4,8,1,12,1,26,1,28,1,37,8,38,5],[8,3,1,5,1,22,1,36,1,42,1],[9,13,1,24,1],
[10,1,10,15,1,16,1,22,1,40,6,42,1],[11,1,1,6,1,14,1,15,1,19,1,21,4,22,4,40,6,44,1],[12,6,6,12,1,18,1,21,7,34,3],[13,1,1,6,1,18,1,19,1,34,12,39,2,40,4,45,1],[14,17,1,18,1,22,1,23,1,34,4,36,1,40,1,45,1],[15,5,1,10,1,15,1,16,4,17,1,18,1,19,4,20,1,21,3,23,2,34,2,35,5,45,3],[16,18,1,20,1,22,1,23,2,35,2,36,1],[17,3,3,23,1,24,1,25,3,28,1],[18,1,1,3,4,24,1,25,1,26,1],[19,0,1,2,7,3,1,4,1,26,1,27,5],
[20,0,1,1,1,2,5,6,1,10,1,20,1,27,8,37,1,38,1,41,1,46,1],[21,0,5,2,1,27,2,37,1,42,5],[22,16,2,17,4,18,1,27,4,42,2,43,2],[23,1,1,6,1,15,1,18,3],[24,14,3,18,1,20,5,21,10],[25,6,1,13,1,19,1,21,4,25,1,26,1,37,1,38,1],[26,13,1,21,8,22,8,25,1,27,3,37,5],[27,7,1,10,1,21,6,22,8,28,9,43,10],[28,5,1,12,1,20,1,22,4,27,1,28,1,42,3,43,9],[29,1,1,4,1,11,1,12,1,13,3,14,1,22,1,26,1,27,1,42,1,43,7],
[30,10,1,11,3,12,3,13,1,25,1,31,1],[31,9,1,10,2,12,1,13,4,22,8,24,1,26,5],[32,12,1,13,6,19,1,20,1,21,2,22,8,23,3],[33,17,1,20,2,21,5,22,2,23,5,24,1,32,4],[34,10,23,20,1,21,4,22,7,23,1,32,5],[35,10,15,21,3,22,3,23,1,33,1,37,1,44,1],[36,10,6,13,1,19,1,21,1,22,1,25,3,44,1],[37,6,1,10,2,22,4,23,1,25,3,44,2],[38,10,1,11,3,14,1,21,1,22,8,23,1,24,3,25,4,44,1],[39,12,1,20,1,25,3,44,1],[40,14,1],[43,13,1],[44,6,1],[48,6,4,7,1],[49,6,3]
];

const SVG_NS = 'http://www.w3.org/2000/svg';
const axLeft = 518, axRight = 3418.5, axTop = 259, axBottom = 1890;
const viridis = ['#440154','#482475','#414487','#355f8d','#2a788e','#21918c','#22a884','#44bf70','#7ad151','#bddf26','#fde725'];

function xScale(v){ return axLeft + (v / xMax) * (axRight - axLeft); }
function yScale(v){ return axBottom - (v / yMax) * (axBottom - axTop); }
function hexToRgb(h){ return [parseInt(h.slice(1,3),16),parseInt(h.slice(3,5),16),parseInt(h.slice(5,7),16)]; }
function colorFor(count){
  const t = Math.max(0, Math.min(1, count / countMax)) * (viridis.length - 1);
  const i = Math.min(viridis.length - 2, Math.floor(t));
  const f = t - i;
  const a = hexToRgb(viridis[i]), b = hexToRgb(viridis[i + 1]);
  return 'rgb(' + a.map((c, k) => Math.round(c + (b[k] - c) * f)).join(',') + ')';
}
function make(tag, attrs, parent){
  const el = document.createElementNS(SVG_NS, tag);
  for (const k in attrs) el.setAttribute(k, attrs[k]);
  parent.appendChild(el);
  return el;
}

const plot = document.getElementById('plot');
const bg = make('rect', {x: xScale(0), y: yScale(yMax), width: xScale(xMax) - xScale(0), height: yScale(0) - yScale(yMax), fill: colorFor(0)}, plot);



const cellsGroup = document.getElementById('cells');
const binW = xMax / xBinCount;
const binH = yMax / yBinCount;
function drawBlock(block, colStart, rowStart){
  block.forEach(function(entry){
    const yBin = yBinCount - 1 - (entry[0] + rowStart);
    for (let i = 1; i < entry.length; i += 2){
      const xBin = entry[i] + colStart;
      const count = entry[i + 1];
      const x0 = xScale(xBin * binW), x1 = xScale((xBin + 1) * binW);
      const y0 = yScale((yBin + 1) * binH), y1 = yScale(yBin * binH);
      const cell = make('rect', {x: x0, y: y0, width: x1 - x0, height: y1 - y0, fill: colorFor(count)}, cellsGroup);
      
      
    }
  });
}
drawBlock(blockTopLeft, 0, 0);
drawBlock(blockTopCenter, 50, 0);
drawBlock(blockTopRight, 100, 0);
drawBlock(blockMiddleLeft, 0, 50);
drawBlock(blockCenter, 50, 50);
drawBlock(blockMiddleRight, 100, 50);
drawBlock(blockBottomLeft, 0, 100);
drawBlock(blockBottomCenter, 50, 100);
drawBlock(blockBottomRight, 100, 100);

const xAxis = document.getElementById('xaxis');
const yAxis = document.getElementById('yaxis');
const tickLen = 15.6, tickW = 3.56;
xTicks.forEach(function(v){
  const x = xScale(v);
  const tick = make('line', {x1: x, x2: x, y1: axBottom, y2: axBottom + tickLen + 1, stroke: '#000', 'stroke-width': tickW}, xAxis);
  
  
  const label = make('text', {x: x, y: 1953, 'text-anchor': 'middle'}, xAxis);
  label.textContent = String(v);
  
  
});
yTicks.forEach(function(v){
  const y = yScale(v);
  const tick = make('line', {x1: axLeft - tickLen - 1, x2: axLeft, y1: y, y2: y, stroke: '#000', 'stroke-width': tickW}, yAxis);
  
  
  const label = make('text', {x: 491, y: y + 16, 'text-anchor': 'end'}, yAxis);
  label.textContent = String(v);
  
  
});
const frame = make('rect', {x: xScale(0), y: yScale(yMax), width: xScale(xMax) - xScale(0), height: yScale(0) - yScale(yMax), fill: 'none', stroke: '#000', 'stroke-width': tickW}, plot.parentNode);


</script>
</body>
</html>
